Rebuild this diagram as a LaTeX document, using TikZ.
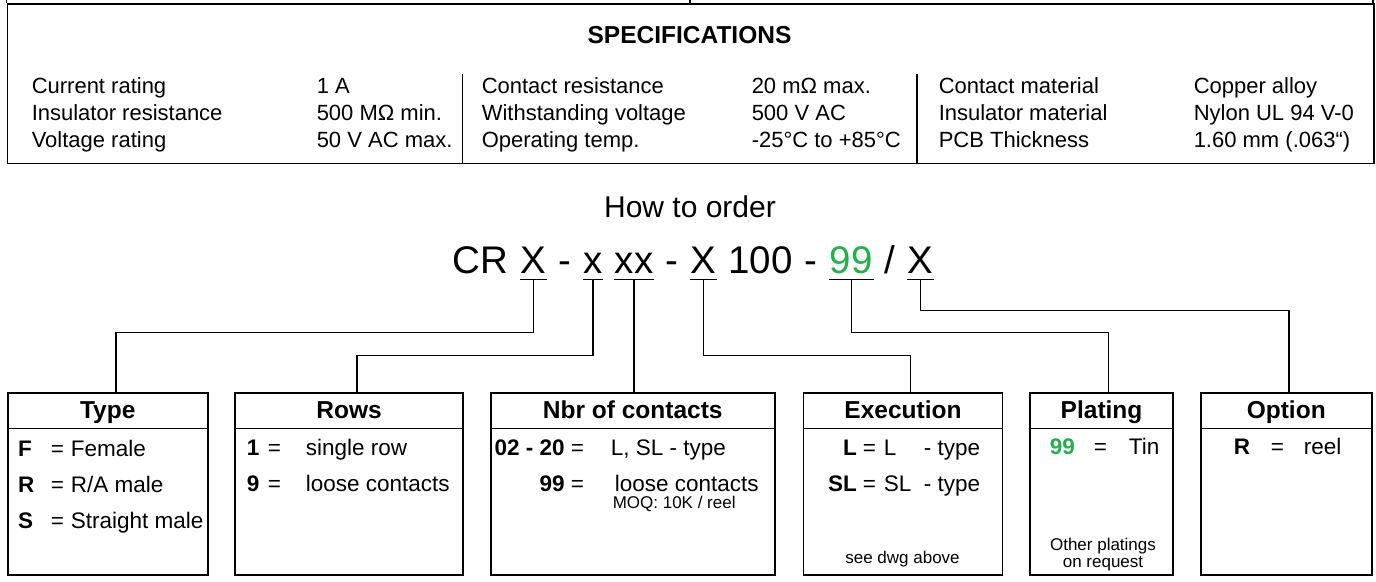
\documentclass[tikz,border=0pt]{standalone}
\usepackage{fontspec}
\setmainfont{Liberation Sans}
\usetikzlibrary{positioning}

\definecolor{platgreen}{RGB}{35,175,75}
% key = text, one line of an order box
\newcommand{\ordline}[5][l]{\makebox[#2][#1]{\textbf{#3}\hspace{6pt}}=\hspace{#4}#5}

\begin{document}
\begin{tikzpicture}[x=1pt, y=-1pt, line width=1.5pt,
    spec/.style={anchor=base west, inner sep=0pt, font=\fontsize{22}{26}\selectfont},
    head/.style={anchor=base, inner sep=0pt, font=\bfseries\fontsize{24.5}{28}\selectfont},
    code/.style={inner sep=0pt, text depth=6pt, font=\fontsize{38.5}{44}\selectfont},
    ordbox/.style={draw, anchor=north west, minimum height=182pt, inner sep=0pt},
    item/.style={anchor=base west, inner sep=0pt, font=\fontsize{22.5}{27}\selectfont},
    note/.style={anchor=base, inner sep=0pt, font=\fontsize{17}{17}\selectfont}]
  \useasboundingbox (0,0) rectangle (1376,581);

  % specifications
  \draw (6.7,0) -- (6.7,3.3) (690,0) -- (690,3.3) (1373,0) -- (1373,3.3);
  \node[draw, anchor=north west, minimum width=1366.3pt, minimum height=159.4pt, inner sep=0pt] (specs) at (6.7,3.3) {};
  \node[head] (spec-title) at (689.5,43.3) {SPECIFICATIONS};
  \draw (462.7,74) -- (462.7,162.7) (917,74) -- (917,162.7);
  \foreach \a/\b/\c/\d/\e/\f [count=\i] in {
      Current rating/1 A/Contact resistance/20 mΩ max./Contact material/Copper alloy,
      Insulator resistance/500 MΩ min./Withstanding voltage/500 V AC/Insulator material/Nylon UL 94 V-0,
      Voltage rating/50 V AC max./Operating temp./-25°C to +85°C/PCB Thickness/1.60 mm (.063“)} {
    \node[spec] (spec-a\i) at (31,66+27*\i) {\a};
    \node[spec] (spec-b\i) at (316,66+27*\i) {\b};
    \node[spec] (spec-c\i) at (481,66+27*\i) {\c};
    \node[spec] (spec-d\i) at (751,66+27*\i) {\d};
    \node[spec] (spec-e\i) at (938,66+27*\i) {\e};
    \node[spec] (spec-f\i) at (1193,66+27*\i) {\f};
  }

  % order code
  \node[anchor=base, inner sep=0pt, font=\fontsize{30}{34}\selectfont] (howto) at (690,217) {How to order};
  \node[code, anchor=base west] (cr) at (452,273) {CR};
  \node[code, base right=10.7pt of cr] (cx1) {X};
  \node[code, base right=10.7pt of cx1] (dash1) {-};
  \node[code, base right=10.7pt of dash1] (cx2) {x};
  \node[code, base right=10.7pt of cx2] (cx3) {xx};
  \node[code, base right=10.7pt of cx3] (dash2) {-};
  \node[code, base right=10.7pt of dash2] (cx4) {X};
  \node[code, base right=10.7pt of cx4] (hundred) {100};
  \node[code, base right=10.7pt of hundred] (dash3) {-};
  \node[code, text=platgreen, base right=10.7pt of dash3] (cx5) {99};
  \node[code, base right=10.7pt of cx5] (slash) {/};
  \node[code, base right=10.7pt of slash] (cx6) {X};
  \foreach \n in {cx1,cx2,cx3,cx4,cx5,cx6}
    \draw[line width=1.3pt] (\n.south west) -- (\n.south east);

  % order boxes
  \foreach \n/\x/\w/\t in {type/7/200/Type, rows/234.3/228/Rows, nbr/490/284/Nbr of contacts,
      exe/802.7/199/Execution, plat/1029.3/143/Plating, opt/1200/171/Option} {
    \node[ordbox, minimum width=\w pt] (\n) at (\x,392.3) {};
    \draw ([yshift=-36pt]\n.north west) -- ([yshift=-36pt]\n.north east);
    \node[head] (\n-title) at ([yshift=-26.5pt]\n.north) {\t};
  }

  \draw (cx1.south) |- ([xshift=8pt,yshift=60pt]type.north) -- ([xshift=8pt]type.north);
  \draw (cx2.south) |- ([xshift=8pt,yshift=37pt]rows.north) -- ([xshift=8pt]rows.north);
  \draw (cx3.south) -- (cx3.south |- nbr.north);
  \draw (cx4.south) |- ([xshift=7.5pt,yshift=37pt]exe.north) -- ([xshift=7.5pt]exe.north);
  \draw (cx5.south) |- ([xshift=7pt,yshift=60pt]plat.north) -- ([xshift=7pt]plat.north);
  \draw (cx6.south) |- ([xshift=2.5pt,yshift=82pt]opt.north) -- ([xshift=2.5pt]opt.north);

  \node[item] (type-f) at (17.3,456) {\ordline{32.7pt}{F}{7pt}{Female}};
  \node[item] (type-r) at (17.3,492) {\ordline{32.7pt}{R}{7pt}{R/A male}};
  \node[item] (type-s) at (17.3,528) {\ordline{32.7pt}{S}{7pt}{Straight male}};

  \node[item] (rows-1) at (246,455) {\ordline{21pt}{1}{25pt}{single row}};
  \node[item] (rows-9) at (246,491) {\ordline{21pt}{9}{25pt}{loose contacts}};

  \node[item] (nbr-a) at (496,455) {\ordline[r]{74pt}{02 - 20}{27pt}{L, SL - type}};
  \node[item] (nbr-b) at (496,491) {\ordline[r]{74pt}{99}{31pt}{loose contacts}};
  \node[note, anchor=base west] (nbr-moq) at (612,508) {MOQ: 10K / reel};

  \node[item] (exe-l) at (820,455) {\ordline[r]{42pt}{L}{8pt}{\makebox[40pt][l]{L}- type}};
  \node[item] (exe-sl) at (820,491) {\ordline[r]{42pt}{SL}{8pt}{\makebox[40pt][l]{SL}- type}};
  \node[note] (exe-note) at (902.5,563) {see dwg above};

  \node[item] (plat-99) at (1049,454) {\ordline{44pt}{\color{platgreen}99}{22pt}{Tin}};
  \node[note] (plat-note1) at (1103,550) {Other platings};
  \node[note] (plat-note2) at (1103,567) {on request};

  \node[item] (opt-r) at (1233,454) {\ordline{37pt}{R}{20pt}{reel}};
\end{tikzpicture}
\end{document}
